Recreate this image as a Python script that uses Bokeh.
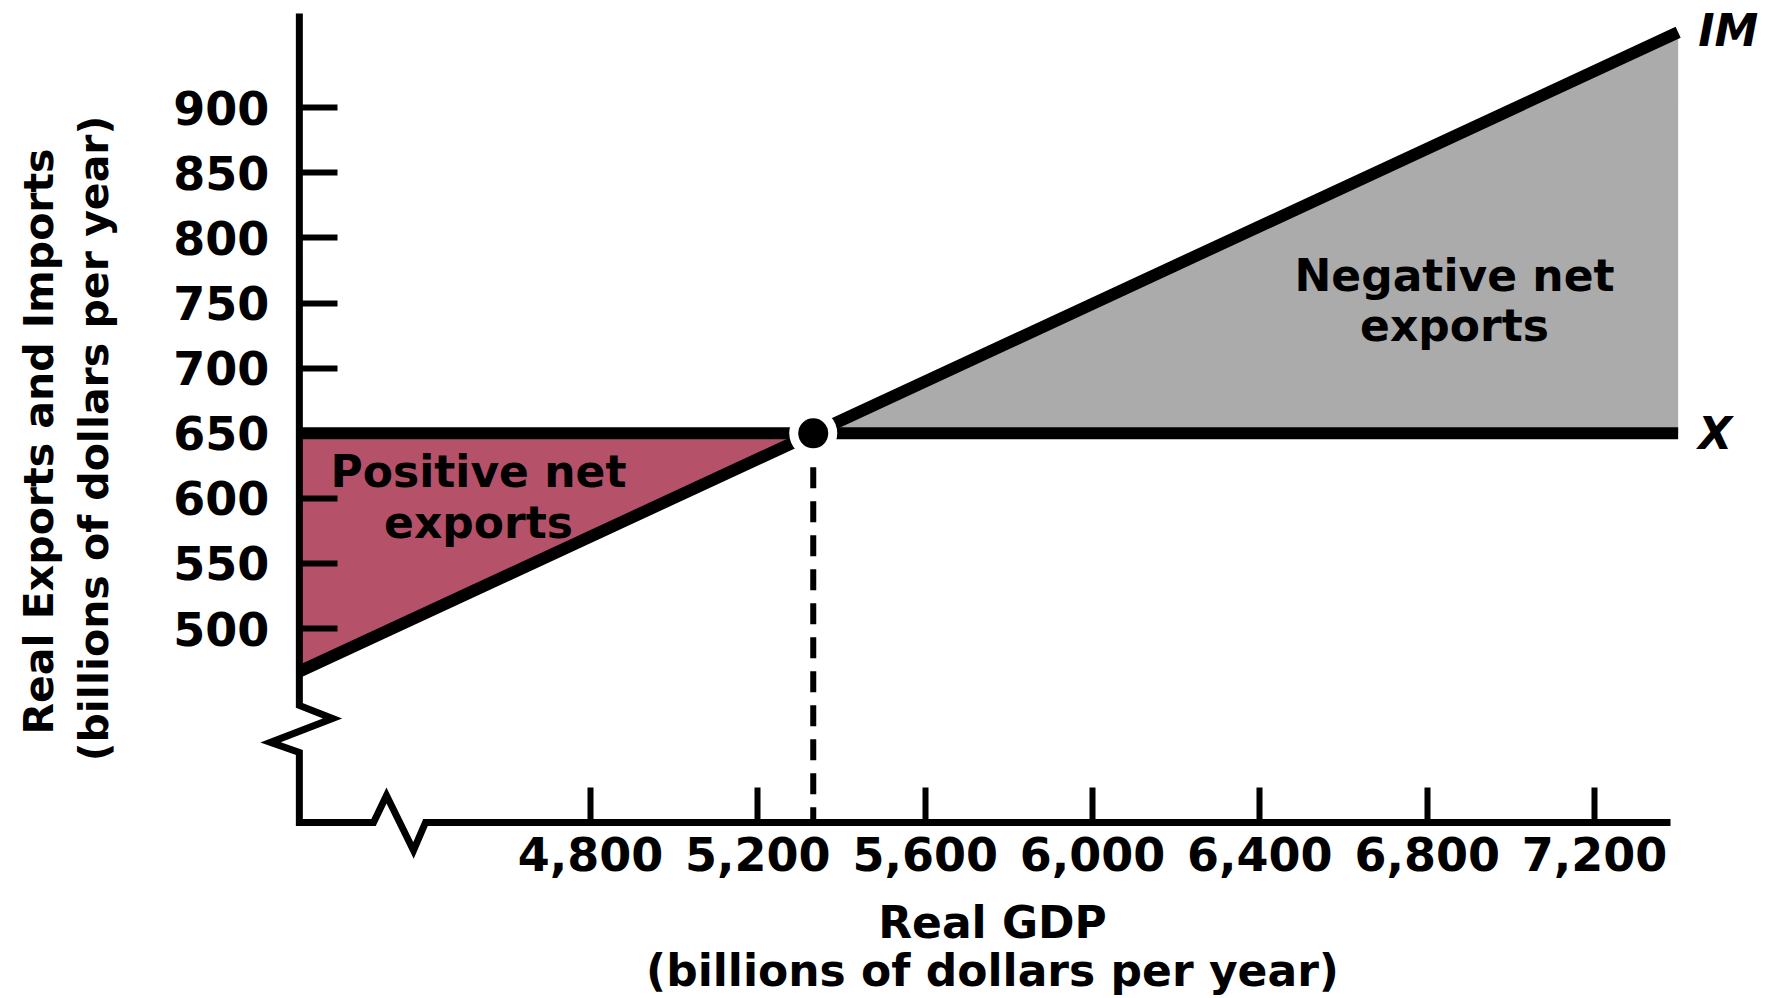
import math
from bokeh.plotting import figure
from bokeh.models import Range1d, LinearAxis, FixedTicker, Label
from bokeh.embed import file_html
from bokeh.resources import INLINE

# ---------------- data ----------------
gdp_ticks = [4800, 5200, 5600, 6000, 6400, 6800, 7200]
gdp_tick_labels = ["4,800", "5,200", "5,600", "6,000", "6,400", "6,800", "7,200"]
level_ticks = [500, 550, 600, 650, 700, 750, 800, 850, 900]

exports_gdp = [4104, 7400]      # X line
exports_level = [650, 650]
imports_gdp = [4104, 7400]      # IM line
imports_level = [467, 958]

# equilibrium where IM crosses X
im_slope = (imports_level[1] - imports_level[0]) / (imports_gdp[1] - imports_gdp[0])
eq_gdp = imports_gdp[0] + (exports_level[0] - imports_level[0]) / im_slope
eq_level = exports_level[0]

# axis frame (with break marks), in data units
axis_gdp = imports_gdp[0]
axis_level = 351.1
frame_x = [axis_gdp, axis_gdp, 4183.3, 4035.0, axis_gdp, axis_gdp,
           4281.3, 4312.3, 4376.9, 4405.6, 7381.7]
frame_y = [972.5, 441.0, 431.0, 412.6, 404.9, axis_level,
           axis_level, 371.8, 329.6, axis_level, axis_level]

FONT = "DejaVu Sans"
PINK = "#b6516a"
GRAY = "#ababab"

W, H = 1774, 998
p = figure(width=W, height=H,
           x_range=Range1d(3389.6, 7630.3), y_range=Range1d(215.9, 982.4),
           x_axis_location=None, y_axis_location=None,
           output_backend="svg", toolbar_location=None,
           min_border=0, min_border_left=0, min_border_right=0,
           min_border_top=0, min_border_bottom=0)
p.outline_line_color = None
p.background_fill_color = "white"
p.border_fill_color = "white"
for g in p.grid:
    g.visible = False

# shaded regions
p.patch([exports_gdp[0], eq_gdp, imports_gdp[0]],
        [exports_level[0], eq_level, imports_level[0]],
        fill_color=PINK, line_color=None)
p.patch([eq_gdp, exports_gdp[1], imports_gdp[1]],
        [eq_level, exports_level[1], imports_level[1]],
        fill_color=GRAY, line_color=None)

# dashed drop line
p.line([eq_gdp, eq_gdp], [eq_level, axis_level], line_color="black",
       line_width=6, line_dash="21 13")

# X and IM lines
p.line(exports_gdp, exports_level, line_color="black", line_width=12, line_cap="butt")
p.line(imports_gdp, imports_level, line_color="black", line_width=12, line_cap="butt")

# equilibrium dot with white halo
p.scatter([eq_gdp], [eq_level], size=48, fill_color="white", line_color=None)
p.scatter([eq_gdp], [eq_level], size=30, fill_color="black", line_color=None)

# axis frame with breaks
p.line(frame_x, frame_y, line_color="black", line_width=7, line_join="miter")

# axes (ticks + tick labels)
yax = LinearAxis(fixed_location=axis_gdp, ticker=FixedTicker(ticks=level_ticks),
                 axis_line_color=None, major_tick_in=38, major_tick_out=0,
                 major_tick_line_width=6, major_tick_line_color="black",
                 minor_tick_line_color=None, major_label_standoff=30,
                 major_label_text_font=FONT, major_label_text_font_style="bold",
                 major_label_text_font_size="46px", major_label_text_color="black")
p.add_layout(yax, "left")
xax = LinearAxis(fixed_location=axis_level, ticker=FixedTicker(ticks=gdp_ticks),
                 major_label_overrides={t: s for t, s in zip(gdp_ticks, gdp_tick_labels)},
                 axis_line_color=None, major_tick_in=35, major_tick_out=0,
                 major_tick_line_width=6, major_tick_line_color="black",
                 minor_tick_line_color=None, major_label_standoff=15,
                 major_label_text_font=FONT, major_label_text_font_style="bold",
                 major_label_text_font_size="46px", major_label_text_color="black")
p.add_layout(xax, "below")

def lab(x, y, text, size="44px", style="bold", align="center", baseline="alphabetic",
        angle=0.0, xo=0, yo=0):
    p.add_layout(Label(x=x, y=y, text=text, text_font=FONT, text_font_size=size,
                       text_font_style=style, text_align=align, text_baseline=baseline,
                       angle=angle, x_offset=xo, y_offset=yo, text_color="black"))

# line labels
lab(imports_gdp[1], imports_level[1], "IM", style="bold italic", align="left",
    baseline="middle", xo=20, yo=2)
lab(exports_gdp[1], exports_level[1], "X", style="bold italic", align="left",
    baseline="middle", xo=20)

# region labels
lab(4532.3, 620.7, "Positive net")
lab(4532.3, 581.5, "exports")
lab(6865.4, 771.2, "Negative net")
lab(6865.4, 732.8, "exports")

# axis titles
lab(5761.0, 274.3, "Real GDP")
lab(5761.0, 237.4, "(billions of dollars per year)")
lab(3481.8, 643.7, "Real Exports and Imports", size="41px", angle=math.pi / 2)
lab(3613.2, 646.0, "(billions of dollars per year)", size="41px", angle=math.pi / 2)

open("out.html", "w").write(file_html(p, INLINE))
